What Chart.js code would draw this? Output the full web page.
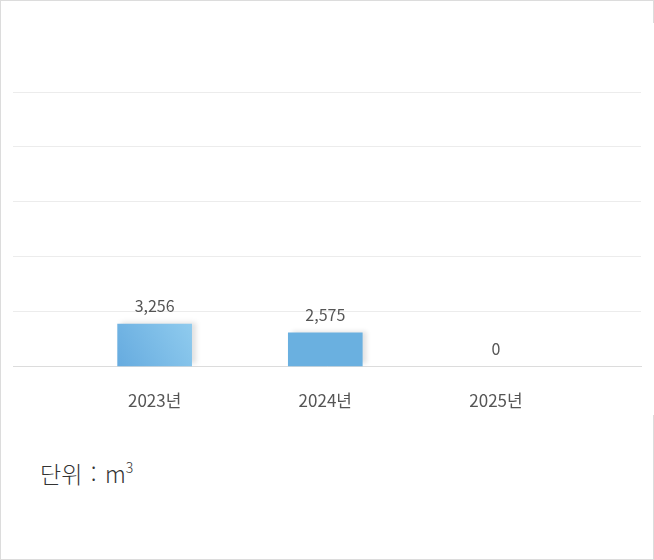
<!DOCTYPE html>
<html lang="ko">
<head>
<meta charset="utf-8">
<script src="https://cdn.jsdelivr.net/npm/chart.js@4"></script>
<style>
  html, body { margin: 0; padding: 0; background: #fff; }
  body { font-family: 'Noto Sans CJK KR', 'Noto Sans', sans-serif; }
  .box {
    position: relative;
    width: 654px; height: 560px;
    box-sizing: border-box;
    border: 1px solid #dcdcdc;
  }
  .chart-clip {
    position: absolute;
    left: 0; top: 22px;
    width: 654px; height: 392px;
    background: #fff;
    overflow: hidden;
  }
  .chart-wrap { position: relative; width: 654px; height: 416px; }
  .unit {
    position: absolute;
    left: 39px; top: 455px;
    font-size: 23px;
    font-weight: 300;
    color: #333;
    word-spacing: 2px;
  }
  .unit sup { font-size: 14px; vertical-align: 10px; line-height: 0; }
</style>
</head>
<body>
<div class="box">
  <div class="chart-clip"><div class="chart-wrap"><canvas id="chart-usage"></canvas></div></div>
  <div class="unit">단위 : m<sup>3</sup></div>
</div>
<script>
// Yearly usage (m3), one bar per year
const YEARS  = ['2023년', '2024년', '2025년'];
const VALUES = [3256, 2575, 0];

const Y_MAX  = 21000;
const Y_STEP = 4200;

const TEXT_COLOR = '#555';
const FONT = "'Noto Sans CJK KR', 'Noto Sans', sans-serif";

// ── Value labels above each bar ───────────────────────────────────────────────
const valueLabels = {
  id: 'valueLabels',
  afterDatasetsDraw(chart) {
    const { ctx } = chart;
    const meta = chart.getDatasetMeta(0);
    ctx.save();
    ctx.font = `16px ${FONT}`;
    ctx.fillStyle = TEXT_COLOR;
    ctx.textAlign = 'center';
    ctx.textBaseline = 'bottom';
    meta.data.forEach((bar, i) => {
      ctx.fillText(VALUES[i].toLocaleString('en-US'), bar.x, bar.y - 10);
    });
    ctx.restore();
  }
};

// ── Soft shadow on the right side of the bars ─────────────────────────────────
const barShadow = {
  id: 'barShadow',
  beforeDatasetDraw(chart) {
    const { ctx } = chart;
    ctx.save();
    ctx.shadowColor = 'rgba(0,0,0,0.12)';
    ctx.shadowBlur = 5;
    ctx.shadowOffsetX = 4;
    ctx.shadowOffsetY = -2;
  },
  afterDatasetDraw(chart) {
    chart.ctx.restore();
  }
};

// first bar has a light diagonal gradient, the rest are flat
function barFill(c) {
  const { chart, dataIndex } = c;
  if (!VALUES[dataIndex]) return 'rgba(0,0,0,0)';   // nothing to draw for 0
  const sx = chart.scales.x, sy = chart.scales.y;
  if (dataIndex !== 0 || !chart.chartArea || !sx || !sy) return '#6ab0e0';
  const cx = sx.getPixelForValue(dataIndex);
  const top = sy.getPixelForValue(VALUES[dataIndex]);
  const base = sy.getPixelForValue(0);
  if (![cx, top, base].every(Number.isFinite)) return '#6ab0e0';
  const g = chart.ctx.createLinearGradient(cx - 37, base, cx + 37, top);
  g.addColorStop(0, '#66abdf');
  g.addColorStop(1, '#8fcbee');
  return g;
}

const ctx = document.getElementById('chart-usage').getContext('2d');
new Chart(ctx, {
  type: 'bar',
  data: {
    datasets: [{
      data: VALUES.map((v, i) => ({ x: i, y: v })),
      backgroundColor: barFill,
      borderWidth: 0,
      barThickness: 74
    }]
  },
  plugins: [barShadow, valueLabels],
  options: {
    responsive: true,
    maintainAspectRatio: false,
    animation: false,
    layout: { padding: { top: 69, left: 12, right: 14, bottom: 4 } },
    plugins: {
      legend: { display: false },
      tooltip: { enabled: false }
    },
    scales: {
      x: {
        type: 'linear',
        offset: false,
        min: -0.83,
        max: 2.85,
        afterBuildTicks: axis => {
          axis.ticks = YEARS.map((_, i) => ({ value: i }));
        },
        ticks: {
          autoSkip: false,
          maxRotation: 0,
          minRotation: 0,
          padding: 24,
          color: TEXT_COLOR,
          font: { family: FONT, size: 17 },
          callback: v => YEARS[v]
        },
        grid: { display: false, drawTicks: false },
        border: { color: '#dcdcdc', width: 1 }
      },
      y: {
        min: 0,
        max: Y_MAX,
        ticks: { stepSize: Y_STEP, display: false },
        grid: { color: '#ececec', drawTicks: false },
        border: { display: false }
      }
    }
  }
});
</script>
</body>
</html>
